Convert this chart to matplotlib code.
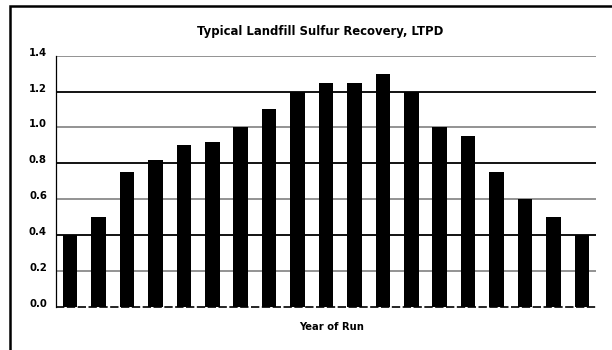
import matplotlib
matplotlib.use("Agg")
import matplotlib.pyplot as plt
from matplotlib.patches import Rectangle
from matplotlib.transforms import ScaledTranslation

# Annual sulfur recovery (long tons per day) over the life of the run
years = list(range(1, 20))
recovery = [0.40, 0.50, 0.75, 0.82, 0.90, 0.92, 1.00, 1.10, 1.20, 1.25,
            1.25, 1.30, 1.20, 1.00, 0.95, 0.75, 0.60, 0.50, 0.40]
y_ticks = [0.0, 0.2, 0.4, 0.6, 0.8, 1.0, 1.2, 1.4]
y_tick_labels = ["0.0", "0.2", "0.4", "0.6", "0.8", "1.0", "1.2", "1.4"]

title = "Typical Landfill Sulfur Recovery, LTPD"
x_label = "Year of Run"

plt.rcParams["font.family"] = ["DejaVu Sans"]

W, H = 612, 350
fig = plt.figure(figsize=(W / 100, H / 100), dpi=100)
fig.patch.set_facecolor("white")

# outer frame (open on the right and bottom)
fig.add_artist(Rectangle((10 / W, -0.1), 1.2, (H - 6) / H + 0.1,
                         transform=fig.transFigure, fill=False,
                         edgecolor="black", linewidth=1.8))

ax = fig.add_axes([56 / W, (H - 306.7) / H, (596 - 56) / W, (306.7 - 55.7) / H])

positions = list(range(len(years)))
ax.bar(positions, recovery, width=0.51, color="black", zorder=3)

ax.set_xlim(-0.5, len(years) - 0.5)
ax.set_ylim(0, 1.4)
ax.set_xticks([])
ax.set_yticks(y_ticks)
ax.set_yticklabels(y_tick_labels, fontsize=7.3, fontweight="bold")
ax.tick_params(axis="y", length=0, pad=6.5)
# labels sit slightly above their gridlines
shift = ScaledTranslation(0, 4 / 100, fig.dpi_scale_trans)
for lbl in ax.get_yticklabels():
    lbl.set_transform(lbl.get_transform() + shift)

# alternating dark / grey gridlines
for idx, v in enumerate(y_ticks):
    if idx == 0:
        continue
    color = "black" if idx % 2 == 0 else "#8a8a8a"
    ax.axhline(v, color=color, linewidth=1.3, zorder=1)
ax.axhline(0, color="black", linewidth=1.2, linestyle=(0, (5, 1.5)),
           zorder=4, clip_on=False)

for s in ["top", "right", "bottom"]:
    ax.spines[s].set_visible(False)
ax.spines["left"].set_linewidth(0.9)

fig.text(320 / W, 1 - 31 / H, title, ha="center", va="center",
         fontsize=8.4, fontweight="bold")
fig.text(331.5 / W, 1 - 327 / H, x_label, ha="center", va="center",
         fontsize=7.2, fontweight="bold")

fig.savefig("out.png", dpi=100, facecolor="white")
